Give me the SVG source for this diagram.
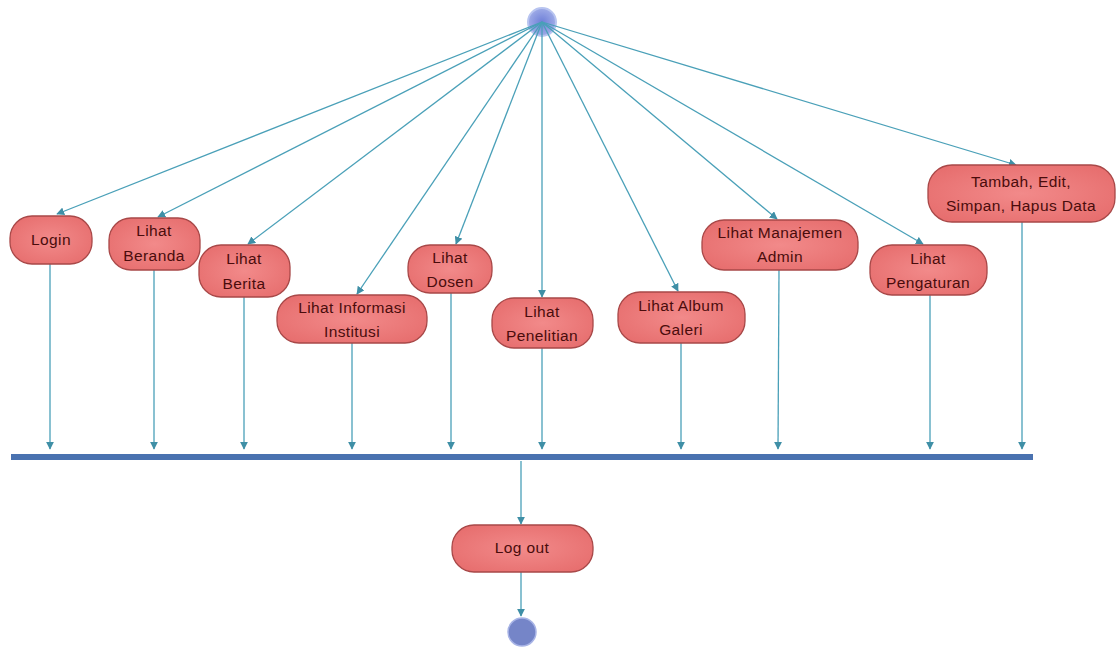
<svg xmlns="http://www.w3.org/2000/svg" width="1118" height="649" viewBox="0 0 1118 649">
<style>
.n rect{fill:url(#g);stroke:#a84848;stroke-width:1.3}
.n text{font-family:"Liberation Sans",Arial,sans-serif;font-size:15.5px;letter-spacing:0.4px;fill:#4a0c0c;text-anchor:middle}
.c line{stroke:#4aa0b8;stroke-width:1.3;marker-end:url(#a)}
</style>
<defs>
<radialGradient id="g" cx="50%" cy="50%" r="70%"><stop offset="0" stop-color="#f28a8a"/><stop offset="1" stop-color="#e56a6a"/></radialGradient>
<radialGradient id="s" cx="50%" cy="50%" r="60%"><stop offset="0" stop-color="#6f80d8"/><stop offset="1" stop-color="#a8b4ea"/></radialGradient>
<marker id="a" viewBox="0 0 10 10" refX="9" refY="5" markerWidth="8" markerHeight="8" markerUnits="userSpaceOnUse" orient="auto"><path d="M0,0L10,5L0,10z" fill="#3f8fa6"/></marker>
</defs>
<rect width="1118" height="649" fill="#fff"/>
<g id="start"><circle cx="542" cy="22" r="14" fill="url(#s)" stroke="#b8c4f0" stroke-width="2"/></g>
<g id="connectors" class="c">
<line x1="542" y1="22" x2="57" y2="214"/>
<line x1="542" y1="22" x2="158" y2="217"/>
<line x1="542" y1="22" x2="248" y2="244"/>
<line x1="542" y1="22" x2="357" y2="294"/>
<line x1="542" y1="22" x2="456" y2="244"/>
<line x1="542" y1="22" x2="542" y2="297"/>
<line x1="542" y1="22" x2="678" y2="291"/>
<line x1="542" y1="22" x2="777" y2="219"/>
<line x1="542" y1="22" x2="923" y2="244"/>
<line x1="542" y1="22" x2="1016" y2="165"/>
<line x1="50" y1="264" x2="50" y2="449"/>
<line x1="154" y1="270" x2="154" y2="449"/>
<line x1="244" y1="297" x2="244" y2="449"/>
<line x1="352" y1="343" x2="352" y2="449"/>
<line x1="451" y1="293" x2="451" y2="449"/>
<line x1="542" y1="348" x2="542" y2="449"/>
<line x1="681" y1="343" x2="681" y2="449"/>
<line x1="779" y1="270" x2="778" y2="449"/>
<line x1="930" y1="295" x2="930" y2="449"/>
<line x1="1022" y1="222" x2="1022" y2="449"/>
<line x1="521" y1="461" x2="521" y2="524"/>
<line x1="521" y1="572" x2="521" y2="616"/>
</g>
<g id="join"><rect x="11" y="454" width="1022" height="6" fill="#4a72b0"/></g>
<g id="login" class="n"><rect x="10" y="216" width="82" height="48" rx="22"/><text x="51" y="245">Login</text></g>
<g id="beranda" class="n"><rect x="109" y="218" width="91" height="52" rx="22"/><text x="154" y="236">Lihat</text><text x="154" y="261">Beranda</text></g>
<g id="berita" class="n"><rect x="199" y="245" width="91" height="52" rx="22"/><text x="244" y="264">Lihat</text><text x="244" y="289">Berita</text></g>
<g id="informasi" class="n"><rect x="277" y="295" width="150" height="48" rx="22"/><text x="352" y="313">Lihat Informasi</text><text x="352" y="337">Institusi</text></g>
<g id="dosen" class="n"><rect x="408" y="245" width="84" height="48" rx="22"/><text x="450" y="263">Lihat</text><text x="450" y="287">Dosen</text></g>
<g id="penelitian" class="n"><rect x="492" y="298" width="101" height="50" rx="22"/><text x="542" y="317">Lihat</text><text x="542" y="341">Penelitian</text></g>
<g id="album" class="n"><rect x="618" y="292" width="127" height="51" rx="22"/><text x="681" y="311">Lihat Album</text><text x="681" y="335">Galeri</text></g>
<g id="manajemen" class="n"><rect x="702" y="220" width="156" height="50" rx="22"/><text x="780" y="238">Lihat Manajemen</text><text x="780" y="262">Admin</text></g>
<g id="pengaturan" class="n"><rect x="870" y="245" width="117" height="50" rx="22"/><text x="928" y="264">Lihat</text><text x="928" y="288">Pengaturan</text></g>
<g id="tambah" class="n"><rect x="928" y="165" width="187" height="57" rx="24"/><text x="1021" y="187">Tambah, Edit,</text><text x="1021" y="211">Simpan, Hapus Data</text></g>
<g id="logout" class="n"><rect x="452" y="525" width="141" height="47" rx="22"/><text x="522" y="553">Log out</text></g>
<g id="end"><circle cx="522" cy="632" r="14" fill="#7585c8" stroke="#a8b4e6" stroke-width="1.5"/></g>
</svg>
